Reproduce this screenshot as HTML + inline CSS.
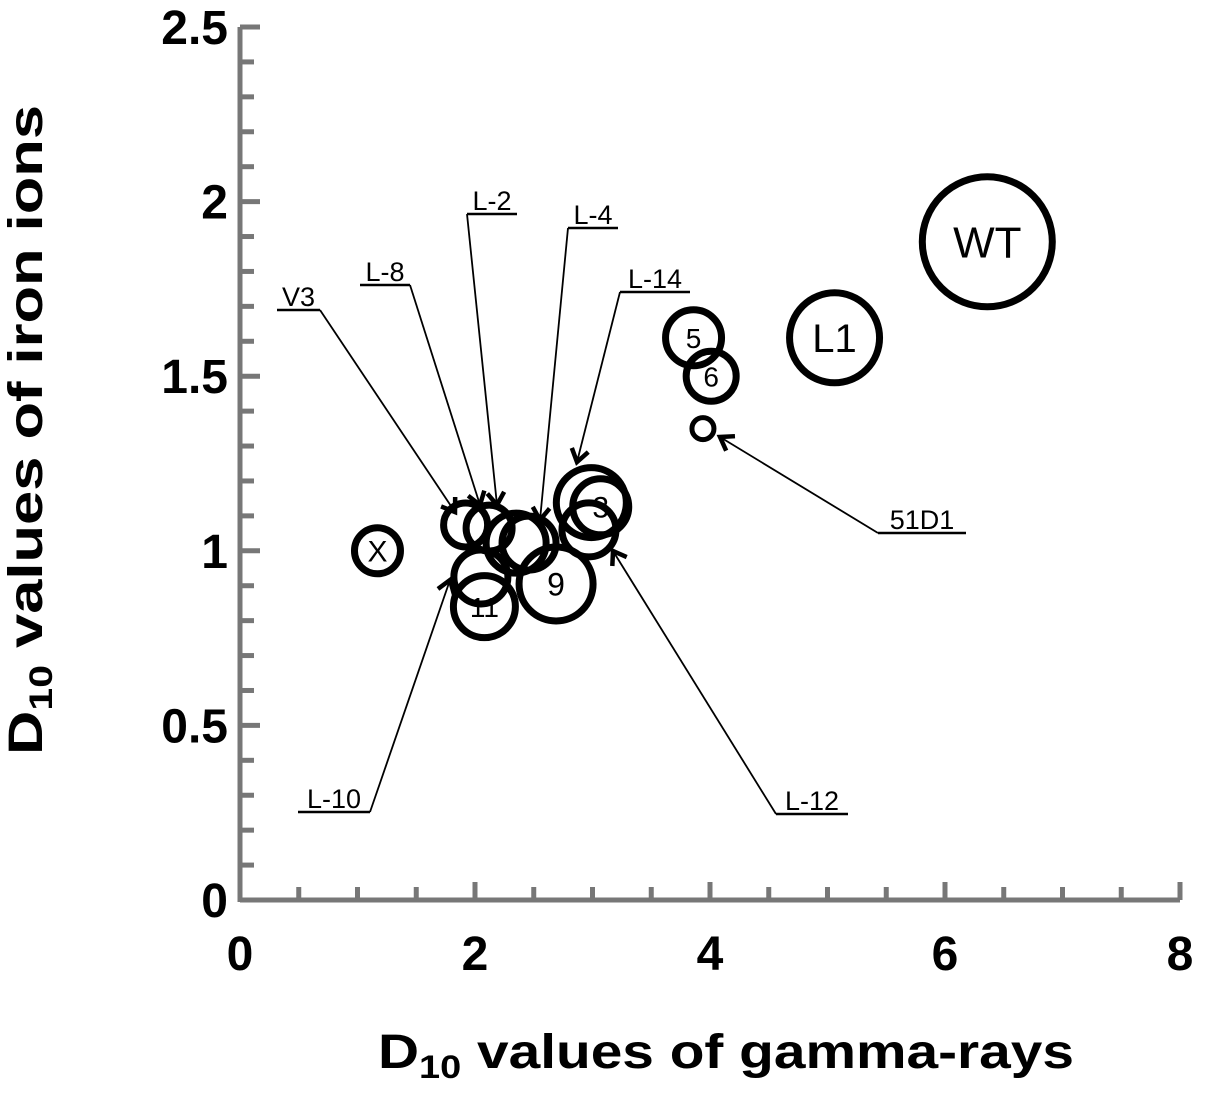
<!DOCTYPE html>
<html><head><meta charset="utf-8"><style>
html,body{margin:0;padding:0;background:#fff}
svg{display:block;font-family:"Liberation Sans",Arial,sans-serif}
</style></head><body>
<svg id="chart" width="1205" height="1098" viewBox="0 0 1205 1098">
<g id="axes"></g>
<g id="marks"></g>
<g id="annots"></g>
<text x="42" y="430" transform="rotate(-90 42 430)" text-anchor="middle" font-weight="bold" font-size="48" textLength="650" lengthAdjust="spacingAndGlyphs">D<tspan font-size="32" dy="10">10</tspan><tspan dy="-10"> values of iron ions</tspan></text>
<text x="726" y="1068" text-anchor="middle" font-weight="bold" font-size="48" textLength="696" lengthAdjust="spacingAndGlyphs">D<tspan font-size="32" dy="10">10</tspan><tspan dy="-10"> values of gamma-rays</tspan></text>
</svg>
<script>
const xTicks=[0,2,4,6,8];
const yTicks=[0,0.5,1,1.5,2,2.5];
const ptLabels=["WT","L1","5","6","","X","","3","","9","11","","","","",""];
const ptX=[6.36,5.06,3.86,4.01,3.94,1.17,2.99,3.07,2.97,2.69,2.08,2.05,1.92,2.12,2.35,2.46];
const ptY=[1.885,1.61,1.61,1.50,1.35,1.00,1.138,1.126,1.06,0.905,0.84,0.925,1.074,1.065,1.022,1.022];
const ptSize=[65,45,28,25,11,23,35,28,27,37,31,27,22,23,30,27];
const ptFont=[44,40,28,28,0,30,0,30,0,32,28,0,0,0,0,0];
const x0=240,x1=1180,y0=900,y1=27;
const sx=v=>x0+(v-0)/8*(x1-x0);
const sy=v=>y0-(v-0)/2.5*(y0-y1);
const NS="http://www.w3.org/2000/svg";
function mk(t,a,p){const e=document.createElementNS(NS,t);for(const k in a)e.setAttribute(k,a[k]);p.appendChild(e);return e;}
const axes=document.getElementById('axes');
const grey="#777";
let l=mk('line',{x1:x0,y1:y0,x2:x1,y2:y0,stroke:grey,'stroke-width':5},axes);


l=mk('line',{x1:x0,y1:y0+2,x2:x0,y2:y1,stroke:grey,'stroke-width':5},axes);


for(let v=0.5;v<=8.001;v+=0.5){const major=Math.abs(v-Math.round(v/2)*2)<1e-6;
 const t=mk('line',{x1:sx(v),y1:y0,x2:sx(v),y2:y0-(major?18:13),stroke:grey,'stroke-width':5},axes);
 
 }
for(let v=0.1;v<=2.501;v+=0.1){const major=Math.abs(v*2-Math.round(v*2))<1e-6;
 const t=mk('line',{x1:x0,y1:sy(v),x2:x0+(major?20:14),y2:sy(v),stroke:grey,'stroke-width':5},axes);
 
 }
xTicks.forEach(v=>{const t=mk('text',{x:sx(v),y:970,'text-anchor':'middle','font-size':48,'font-weight':'bold'},axes);t.textContent=v;
 
 });
yTicks.forEach(v=>{const t=mk('text',{x:228,y:sy(v)+17,'text-anchor':'end','font-size':48,'font-weight':'bold'},axes);t.textContent=v;
 
 });
const marks=document.getElementById('marks');
ptX.forEach((v,i)=>{const c=mk('circle',{cx:sx(v),cy:sy(ptY[i]),r:ptSize[i],fill:'none',stroke:'#000','stroke-width':ptSize[i]<15?5:7},marks);
 
 
 if(ptLabels[i]){const t=mk('text',{x:sx(v),y:sy(ptY[i])+ptFont[i]*0.36,'text-anchor':'middle','font-size':ptFont[i]},marks);t.textContent=ptLabels[i];
 
 }});
const an=document.getElementById('annots');
const ann=[["V3",277,320,310,320,455,512],["L-8",360,410,285,410,480,505],["L-2",467,517,214,467,497,505],
["L-4",568,618,228,568,540,520],["L-14",620,690,292,620,577,462],["51D1",878,966,533,878,720,437],
["L-12",776,848,814,776,613,551],["L-10",298,370,812,370,450,580]];
ann.forEach(a=>{const [txt,ua,ub,uy,lx,ax,ay]=a;
 const g=mk('g',{},an);
 
 
 mk('line',{x1:ua,y1:uy,x2:ub,y2:uy,stroke:'#000','stroke-width':2.5},g);
 mk('line',{x1:lx,y1:uy,x2:ax,y2:ay,stroke:'#000','stroke-width':1.8},g);
 const ang=Math.atan2(ay-uy,ax-lx),h=15;
 const p1=[ax-h*Math.cos(ang-0.6),ay-h*Math.sin(ang-0.6)],p2=[ax-h*Math.cos(ang+0.6),ay-h*Math.sin(ang+0.6)];
 mk('polyline',{points:`${p1} ${ax},${ay} ${p2}`,fill:'none',stroke:'#000','stroke-width':4.5},g);
 const t=mk('text',{x:(ua+ub)/2,y:uy-4,'text-anchor':'middle','font-size':27},g);t.textContent=txt;});
</script>
</body></html>
